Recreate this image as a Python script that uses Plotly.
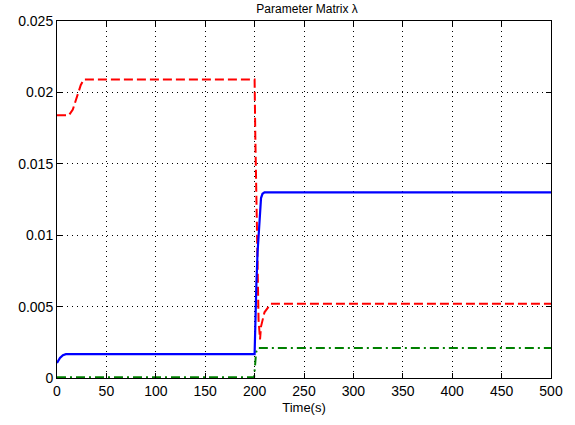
import plotly.graph_objects as go

# Blue solid series
t_blue = [0, 3, 6, 9, 200, 200.8, 201.8, 203, 204.5, 205.5, 206.5, 208, 210, 500]
v_blue = [0.00105, 0.0014, 0.0016, 0.00167, 0.00167, 0.0045, 0.0066, 0.0088, 0.0108,
          0.0120, 0.0126, 0.0129, 0.0130, 0.0130]

# Red dashed series
t_red = [0, 12, 16, 20, 24, 27, 200, 200.7, 201.5, 202.5, 203, 204, 205.5, 206.5, 210, 216.5, 500]
v_red = [0.0184, 0.0184, 0.0188, 0.0196, 0.0205, 0.0209, 0.0209, 0.0170, 0.0130, 0.0092,
         0.0064, 0.0041, 0.0027, 0.0036, 0.0046, 0.0052, 0.0052]

# Green dash-dot series
t_green = [0, 199.5, 200.5, 201.5, 203, 500]
v_green = [0.00005, 0.00005, 0.0009, 0.0018, 0.0021, 0.0021]

x_ticks = [0, 50, 100, 150, 200, 250, 300, 350, 400, 450, 500]
y_ticks = [0, 0.005, 0.01, 0.015, 0.02, 0.025]
y_tick_text = ["0", "0.005", "0.01", "0.015", "0.02", "0.025"]

fig = go.Figure()
fig.add_trace(go.Scatter(x=t_green, y=v_green, mode="lines",
                         line=dict(color="#008000", width=2, dash="9px,4px,2px,4px")))
fig.add_trace(go.Scatter(x=t_red, y=v_red, mode="lines",
                         line=dict(color="#ff0000", width=2, dash="9px,4px")))
fig.add_trace(go.Scatter(x=t_blue, y=v_blue, mode="lines",
                         line=dict(color="#0000ff", width=2.2)))

axis_common = dict(
    showline=True, linecolor="black", linewidth=1, mirror="ticks",
    ticks="inside", ticklen=5, tickcolor="black",
    showgrid=True, gridcolor="black", gridwidth=1, griddash="1px,4px",
    zeroline=False,
    tickfont=dict(family="Liberation Sans, Arial, sans-serif", size=14, color="black"),
)

fig.update_layout(
    width=575, height=425,
    margin=dict(l=57, r=18, t=21, b=47),
    paper_bgcolor="white", plot_bgcolor="white",
    showlegend=False,
    title=dict(text="Parameter Matrix λ", x=0.534, xanchor="center", y=0.99, yanchor="top",
               font=dict(family="Liberation Sans, Arial, sans-serif", size=12, color="black")),
    xaxis=dict(range=[0, 500], tickvals=x_ticks,
               title=dict(text="Time(s)", standoff=5,
                          font=dict(family="Liberation Sans, Arial, sans-serif", size=13, color="black")),
               **axis_common),
    yaxis=dict(range=[0, 0.025], tickvals=y_ticks, ticktext=y_tick_text, **axis_common),
)

fig.write_html("out.html")
